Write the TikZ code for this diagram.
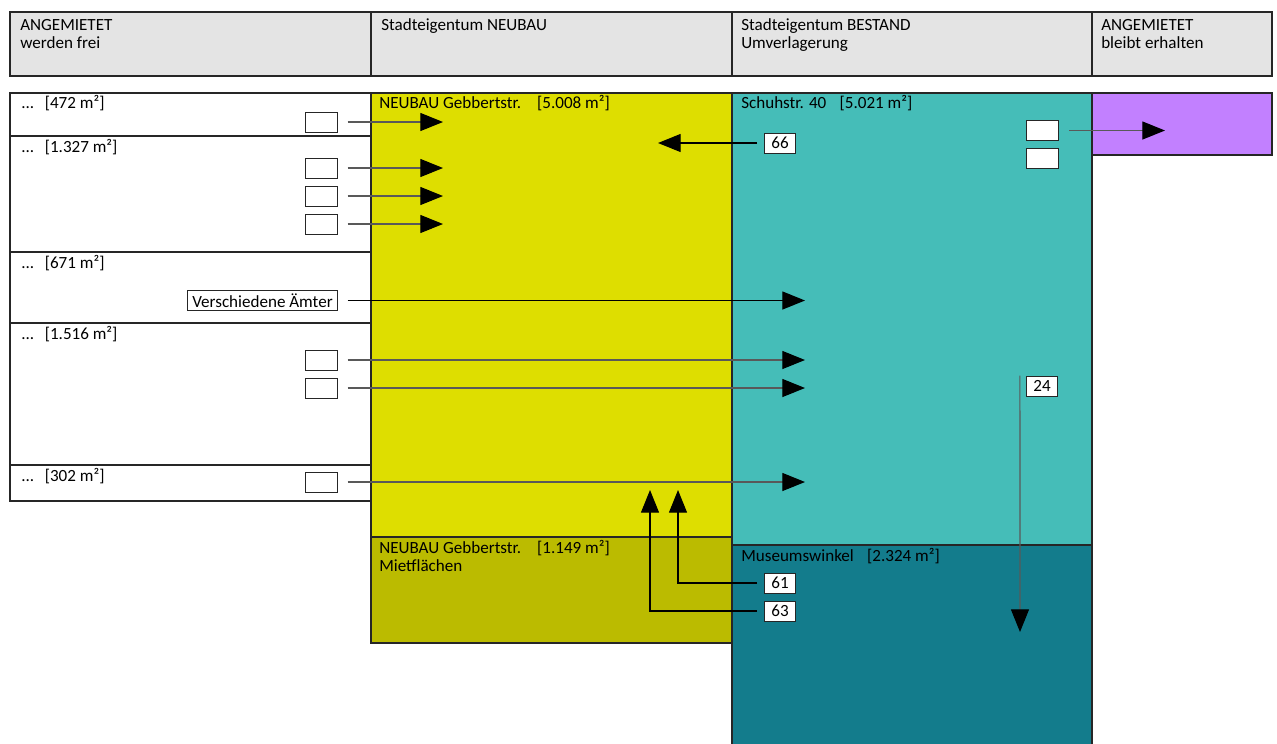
\documentclass[tikz,border=0pt]{standalone}
\usepackage{fontspec}
\setmainfont{Carlito}
\usepackage{tikz}
\usetikzlibrary{arrows.meta,positioning,calc}

\definecolor{headgray}{HTML}{E4E4E4}
\definecolor{neubau}{HTML}{DEDE00}
\definecolor{mietfl}{HTML}{BBBB00}
\definecolor{bestand}{HTML}{45BDB8}
\definecolor{museum}{HTML}{137C8C}
\definecolor{erhalten}{HTML}{C280FF}

\begin{document}
\begin{tikzpicture}[
    x=0.75pt, y=-0.75pt,
    txt/.style={anchor=base west, inner sep=0pt, align=left, font=\fontsize{12.8}{13.5}\selectfont},
    region/.style={draw=black!85, line width=0.8pt},
    slot/.style={draw=black!85, fill=white, line width=0.7pt, minimum width=23.5pt, minimum height=15pt, inner sep=0pt, font=\fontsize{12.8}{13.5}\selectfont},
    flow/.style={-{Triangle[length=17pt,width=13.5pt,color=black]}, draw=black!65, line width=0.9pt},
    bflow/.style={flow, draw=black}
]
\useasboundingbox (0,0) rectangle (1277,743);

% Header
\filldraw[region, fill=headgray] (10,12) rectangle (1272,76);
\foreach \x in {371,732,1092} \draw[region] (\x,12) -- (\x,76);
\node[txt] (h1) at (20,48) {ANGEMIETET\\werden frei};
\node[txt] (h2) at (381,30) {Stadteigentum NEUBAU};
\node[txt] (h3) at (741,48) {Stadteigentum BESTAND\\Umverlagerung};
\node[txt] (h4) at (1101,48) {ANGEMIETET\\bleibt erhalten};

% Areas
\filldraw[region, fill=neubau] (371,93) rectangle (732,537);
\filldraw[region, fill=mietfl] (371,537) rectangle (732,643);
\filldraw[region, fill=bestand] (732,93) rectangle (1092,545);
\filldraw[region, fill=museum] (732,545) rectangle (1092,748);
\filldraw[region, fill=erhalten] (1092,93) rectangle (1272,155);

% Left column
\draw[region] (10,93) rectangle (371,501);
\foreach \y in {136,252,323,465} \draw[region] (10,\y) -- (371,\y);

% Area labels
\node[txt] (a1) at (21,108) {...\hspace{8pt}[472 m²]};
\node[txt] (a2) at (21,152) {...\hspace{8pt}[1.327 m²]};
\node[txt] (a3) at (21,268) {...\hspace{8pt}[671 m²]};
\node[txt] (a4) at (21,339) {...\hspace{8pt}[1.516 m²]};
\node[txt] (a5) at (21,481) {...\hspace{8pt}[302 m²]};
\node[txt] (neu) at (379,108) {NEUBAU Gebbertstr.\hspace{12pt}[5.008 m²]};
\node[txt] (miet) at (379,571) {NEUBAU Gebbertstr.\hspace{12pt}[1.149 m²]\\Mietflächen};
\node[txt] (schuh) at (741,108) {Schuhstr. 40\hspace{10pt}[5.021 m²]};
\node[txt] (mus) at (741,561) {Museumswinkel\hspace{10pt}[2.324 m²]};

% Slots
\node[slot] (s1) at (321.5,122) {};
\node[slot] (s2) at (321.5,168) {};
\node[slot] (s3) at (321.5,196) {};
\node[slot] (s4) at (321.5,224) {};
\node[slot] (s5) at (321.5,360) {};
\node[slot] (s6) at (321.5,388) {};
\node[slot] (s7) at (321.5,482) {};
\node[slot, minimum width=112pt] (aemter) at (262.5,300.5) {Verschiedene Ämter};
\node[slot] (p1) at (1042.5,130.5) {};
\node[slot] (p2) at (1042.5,158.5) {};
\node[slot] (n66) at (780,143) {66};
\node[slot] (n24) at (1042,386) {24};
\node[slot] (n61) at (780,583) {61};
\node[slot] (n63) at (780,611) {63};

% Targets
\coordinate (t1) at (443,122);
\coordinate (t2) at (443,168);
\coordinate (t3) at (443,196);
\coordinate (t4) at (443,224);
\coordinate (t5) at (805,360);
\coordinate (t6) at (805,388);
\coordinate (t7) at (805,482);
\coordinate (tae) at (805,300.5);
\coordinate (tp) at (1165,130.5);
\coordinate (t66) at (658,143);
\coordinate (t24) at (1020,632);
\coordinate (t61) at (678,490);
\coordinate (t63) at (650,490);

% Moves
\foreach \i in {1,...,7} \draw[flow, shorten <=7.5pt] (s\i) -- (t\i);
\draw[bflow, shorten <=7.5pt] (aemter) -- (tae);
\draw[flow, shorten <=8pt] (p1) -- (tp);
\draw[bflow, shorten <=5pt] (n66) -- (t66);
\draw[flow] ([xshift=-4.5pt]n24.north west) -- (t24);
\draw[bflow, shorten <=5pt] (n61) -| (t61);
\draw[bflow, shorten <=5pt] (n63) -| (t63);

\end{tikzpicture}
\end{document}
